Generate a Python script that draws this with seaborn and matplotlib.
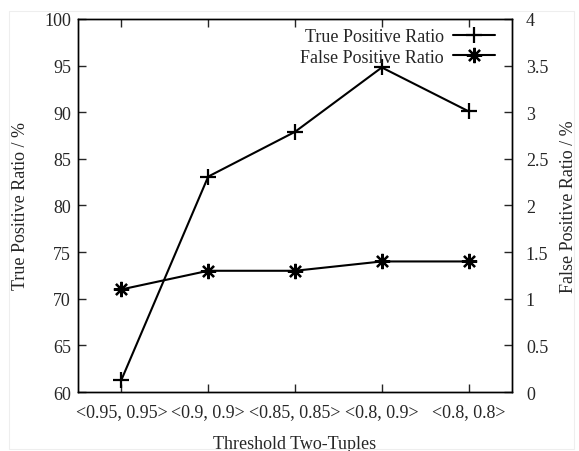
import pandas as pd
import numpy as np
import seaborn as sns
import matplotlib.pyplot as plt
from matplotlib.patches import Rectangle

# 数据
thresholds = ['<0.95, 0.95>', '<0.9, 0.9>', '<0.85, 0.85>', '<0.8, 0.9>', '<0.8, 0.8>']
tp_ratio = [61.3, 83.1, 87.9, 94.8, 90.1]
fp_ratio = [1.1, 1.3, 1.3, 1.4, 1.4]

sns.set_style('white')
plt.rcParams['font.family'] = ['Liberation Serif', 'DejaVu Serif']
plt.rcParams['font.size'] = 13

df = pd.DataFrame({'阈值': thresholds, 'TP': tp_ratio, 'FP': fp_ratio})

fig = plt.figure(figsize=(5.79, 4.52), dpi=100)
ax = fig.add_axes([0.1347, 0.1305, 0.8843 - 0.1347, 0.9558 - 0.1305])
ax2 = ax.twinx()

# 真阳性
sns.lineplot(data=df, x='阈值', y='TP', ax=ax, color='black', linewidth=1.5,
             marker='+', markersize=11, markeredgewidth=1.6, markeredgecolor='black',
             sort=False, label='True Positive Ratio', legend=False)
# 假阳性
sns.lineplot(data=df, x='阈值', y='FP', ax=ax2, color='black', linewidth=1.5,
             marker=(8, 2, 0), markersize=11, markeredgewidth=1.6, markeredgecolor='black',
             sort=False, label='False Positive Ratio', legend=False)

ax.set_xlim(-0.5, 4.5)
ax.set_ylim(60, 100)
ax2.set_ylim(0, 4)
ax.set_yticks(np.arange(60, 101, 5))
ax2.set_yticks(np.arange(0, 4.01, 0.5))
ax2.set_yticklabels(['0', '0.5', '1', '1.5', '2', '2.5', '3', '3.5', '4'])

for a in (ax, ax2):
    for s in a.spines.values():
        s.set_color('black')
        s.set_linewidth(1.0)

ax.tick_params(axis='x', direction='in', length=6, width=1, top=True, bottom=True, pad=8,
               labelsize=13)
ax.tick_params(axis='y', direction='in', length=6, width=1, left=True, right=False, pad=5,
               labelsize=13)
ax2.tick_params(axis='y', direction='in', length=6, width=1, right=True, left=False, pad=10,
                labelsize=13)

ax.set_xlabel('Threshold Two-Tuples', fontsize=13, labelpad=11)
ax.set_ylabel('True Positive Ratio / %', fontsize=13, labelpad=11)
ax2.set_ylabel('False Positive Ratio / %', fontsize=13, labelpad=8)

h1, l1 = ax.get_legend_handles_labels()
h2, l2 = ax2.get_legend_handles_labels()
ax2.legend(h1 + h2, l1 + l2, loc='upper right', bbox_to_anchor=(0.985, 1.005),
           frameon=False, markerfirst=False, handlelength=2.3, fontsize=13,
           labelspacing=0.2, handletextpad=0.5, borderaxespad=0.2)

# 外框
fig.patches.append(Rectangle((0.016, 0.005), 0.975, 0.968, transform=fig.transFigure,
                             fill=False, edgecolor='#eeeeee', linewidth=0.8))

fig.savefig('out.png', dpi=100)
